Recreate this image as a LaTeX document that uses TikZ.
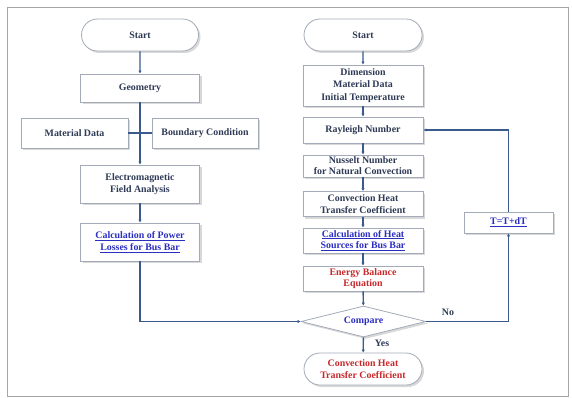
\documentclass[tikz,border=0pt]{standalone}
\usepackage{fontspec}
\setmainfont{Liberation Serif}
\usetikzlibrary{shapes.geometric,shapes.misc,shadows,arrows.meta}
\definecolor{lineblue}{HTML}{3A5A8C}
\definecolor{boxgray}{HTML}{A3ABB8}
\definecolor{txt}{HTML}{2E3A56}
\definecolor{linkblue}{HTML}{2B2FC0}
\definecolor{redtxt}{HTML}{C8282A}
\begin{document}
\begin{tikzpicture}[x=1pt,y=-1pt,
  base/.style={draw=boxgray,line width=0.8pt,fill=white,align=center,
    font=\fontsize{9.9}{12.2}\selectfont\bfseries,text=txt,inner xsep=1pt,inner ysep=0.5pt,
    drop shadow={shadow xshift=2pt,shadow yshift=-2pt,fill=gray!60,opacity=0.5}},
  box/.style={base,rectangle},
  pill/.style={base,rounded rectangle},
  dia/.style={base,diamond,aspect=4},
  conn/.style={draw=lineblue,line width=1.4pt},
  arr/.style={conn,-{Latex[length=3pt,width=3.4pt]}},
  lbl/.style={font=\fontsize{9.9}{11}\selectfont\bfseries,text=txt}]
\useasboundingbox (0,0) rectangle (572,398);
\draw[gray!70,line width=0.9pt] (7,7) rectangle (568.5,396.5);
% left column
\node[pill,minimum width=119pt,minimum height=32pt] (startL) at (140,35) {Start};
\node[box,minimum width=119pt,minimum height=28pt] (geom) at (140,88) {Geometry};
\node[box,minimum width=107pt,minimum height=30pt] (mat) at (74.5,133) {Material Data};
\node[box,minimum width=106pt,minimum height=30pt] (bnd) at (205,133) {Boundary Condition};
\node[box,minimum width=119pt,minimum height=38pt] (em) at (140,184) {Electromagnetic\\Field Analysis};
\node[box,minimum width=119pt,minimum height=38pt,text=linkblue] (calcP) at (140,242) {\underline{Calculation of Power}\\\underline{Losses for Bus Bar}};
% right column
\node[pill,minimum width=120pt,minimum height=32pt] (startR) at (363,35) {Start};
\node[box,minimum width=120pt,minimum height=41pt] (dim) at (363,85.5) {Dimension\\Material Data\\Initial Temperature};
\node[box,minimum width=120pt,minimum height=26pt] (ray) at (363,130) {Rayleigh Number};
\node[box,minimum width=120pt,minimum height=22pt,font=\fontsize{9.9}{11}\selectfont\bfseries] (nus) at (363,166) {Nusselt Number\\for Natural Convection};
\node[box,minimum width=120pt,minimum height=25pt,font=\fontsize{9.9}{11.5}\selectfont\bfseries] (conv) at (363,204) {Convection Heat\\Transfer Coefficient};
\node[box,minimum width=120pt,minimum height=25pt,text=linkblue,font=\fontsize{9.9}{11.5}\selectfont\bfseries] (calcH) at (363,240.5) {\underline{Calculation of Heat}\\\underline{Sources for Bus Bar}};
\node[box,minimum width=120pt,minimum height=25pt,text=redtxt,font=\fontsize{9.9}{11.5}\selectfont\bfseries] (energy) at (363,278.5) {Energy Balance\\Equation};
\node[dia,minimum width=125pt,minimum height=31pt,text=linkblue] (cmp) at (363.5,321.5) {Compare};
\node[pill,minimum width=120pt,minimum height=32pt,text=redtxt] (endR) at (363,369) {Convection Heat\\Transfer Coefficient};
\node[box,minimum width=89pt,minimum height=21pt,text=linkblue] (tdt) at (508.5,222.5) {\underline{T=T+dT}};
% connectors left
\draw[arr] (startL) -- (geom);
\draw[arr] (geom) -- (em);
\draw[conn] (mat.east) -- (bnd.west);
\draw[arr] (em) -- (calcP);
\draw[arr] (calcP.south) |- (cmp.west);
% connectors right
\draw[arr] (startR) -- (dim);
\draw[arr] (dim) -- (ray);
\draw[arr] (ray) -- (nus);
\draw[arr] (nus) -- (conv);
\draw[arr] (conv) -- (calcH);
\draw[arr] (calcH) -- (energy);
\draw[arr] (energy) -- (cmp);
\draw[arr] (cmp) -- (endR);
\draw[arr] (cmp.east) -| (tdt.south);
\draw[arr] (tdt.north) |- (ray.east);
\node[lbl] (no) at (448,312) {No};
\node[lbl] (yes) at (382,343) {Yes};
\end{tikzpicture}
\end{document}
